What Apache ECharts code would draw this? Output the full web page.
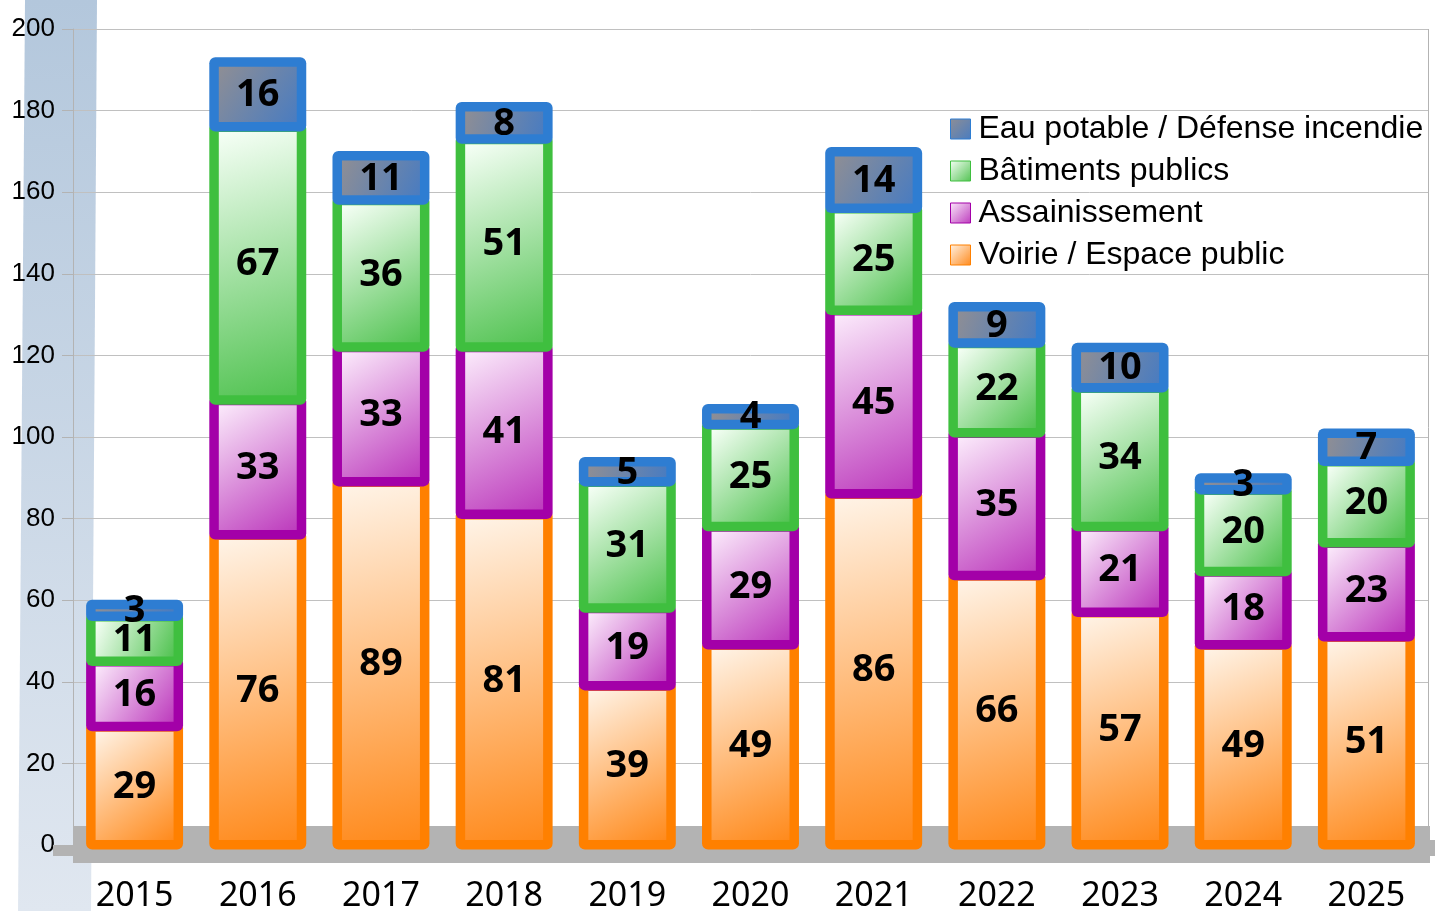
<!DOCTYPE html>
<html>
<head>
<meta charset="utf-8">
<script src="https://cdn.jsdelivr.net/npm/echarts@6/dist/echarts.min.js"></script>
<style>
html,body{margin:0;padding:0;background:#fff;}
#chart{width:1435px;height:911px;}
</style>
</head>
<body>
<div id="chart"></div>
<script>
const categories = ['2015','2016','2017','2018','2019','2020','2021','2022','2023','2024','2025'];
const voirie = [29,76,89,81,39,49,86,66,57,49,51];
const assainissement = [16,33,33,41,19,29,45,35,21,18,23];
const batiments = [11,67,36,51,31,25,25,22,34,20,20];
const eau = [3,16,11,8,5,4,14,9,10,3,7];
const seriesNames = ['Voirie / Espace public','Assainissement','Bâtiments publics','Eau potable / Défense incendie'];
const legendOrder = ['Eau potable / Défense incendie','Bâtiments publics','Assainissement','Voirie / Espace public'];

function grad(c0, c1){
  return {type:'linear',x:0,y:0,x2:1,y2:1,colorStops:[{offset:0,color:c0},{offset:1,color:c1}]};
}
const styles = [
  {c0:'#fff3e6', c1:'#ff8a1c', border:'#ff8000'},
  {c0:'#fbeafb', c1:'#bd3cbd', border:'#a300a8'},
  {c0:'#f6fff6', c1:'#52c352', border:'#3fbf3f'},
  {c0:'#8e8e95', c1:'#4a7cc0', border:'#2e7dd2'}
];
const values = [voirie, assainissement, batiments, eau];

const stacked = values.map(()=>[]);
categories.forEach((c, j)=>{
  let acc = 0;
  values.forEach((v, i)=>{
    stacked[i].push([j, acc, acc + v[j], v[j]]);
    acc += v[j];
  });
});

const BORDER = 9.5, EXT = 4.5;
function makeRender(i){
  const st = styles[i];
  return function(params, api){
    const idx = api.value(0);
    const x = api.coord([idx, 0])[0];
    const yTop = api.coord([idx, api.value(2)])[1];
    const yBot = api.coord([idx, api.value(1)])[1];
    const w = api.size([1, 0])[0] * 0.787;
    const ox = x - w/2, oy = yTop - EXT, oh = (yBot - yTop) + 2*EXT;
    return {
      type:'group',
      children:[
        {type:'rect', shape:{x:ox, y:oy, width:w, height:oh, r:6}, style:{fill:st.border}},
        {type:'rect', shape:{x:ox+BORDER, y:oy+BORDER, width:w-2*BORDER, height:Math.max(0, oh-2*BORDER)},
          style:{fill:grad(st.c0, st.c1)}},
        {type:'text', z2:100, style:{x:x, y:(yTop+yBot)/2 + 1, text:String(api.value(3)), align:'center', verticalAlign:'middle',
          fill:'#000', font:'bold 38px "Noto Sans"'}}
      ]
    };
  };
}

const chart = echarts.init(document.getElementById('chart'));
const series = values.map((v,i)=>({
  name: seriesNames[i],
  type:'custom',
  renderItem: makeRender(i),
  encode:{x:0, y:[1,2]},
  data: stacked[i],
  itemStyle:{color: grad(styles[i].c0, styles[i].c1), borderColor: styles[i].border, borderWidth:1},
  emphasis:{disabled:true}
}));

chart.setOption({
  animation:false,
  grid:{left:73, right:7, top:29, bottom:66, containLabel:false, outerBoundsMode:'none'},
  legend:{
    data: legendOrder,
    orient:'vertical', left:950, top:113, padding:0,
    itemWidth:20, itemHeight:20, itemGap:10,
    icon:'rect',
    itemStyle:{borderWidth:1},
    textStyle:{fontFamily:'Liberation Sans', fontSize:32, color:'#000', lineHeight:32, padding:[0,0,0,3]}
  },
  xAxis:{
    type:'category', data: categories,
    axisLine:{show:false}, axisTick:{show:false},
    axisLabel:{margin:34, fontFamily:'Noto Sans', fontSize:34, color:'#000'}
  },
  yAxis:{
    type:'value', min:0, max:200, interval:20,
    axisLine:{show:true, lineStyle:{color:'#b3b3b3', width:1}},
    axisTick:{show:true, length:11, lineStyle:{color:'#b3b3b3'}},
    splitLine:{lineStyle:{color:'#c0c0c0', width:1}},
    axisLabel:{margin:18, fontFamily:'Liberation Sans', fontSize:26, color:'#000'}
  },
  graphic:[
    {type:'polygon', z:-10, shape:{points:[[25,0],[97,0],[91,911],[18,911]]},
      style:{fill:{type:'linear',x:0,y:0,x2:0,y2:1,colorStops:[{offset:0,color:'#b3c7dc'},{offset:1,color:'#e0e7f0'}]}}},
    {type:'rect', z:1, shape:{x:73,y:826,width:1357,height:37}, style:{fill:'#b3b3b3'}},
    {type:'rect', z:1, shape:{x:53,y:845,width:20,height:11}, style:{fill:'#b3b3b3'}},
    {type:'rect', z:1, shape:{x:1430,y:840,width:5,height:16}, style:{fill:'#b3b3b3'}},
    {type:'line', z:1, shape:{x1:1428.5,y1:29,x2:1428.5,y2:826}, style:{stroke:'#b3b3b3', lineWidth:1}}
  ],
  series: series
});
</script>
</body>
</html>
